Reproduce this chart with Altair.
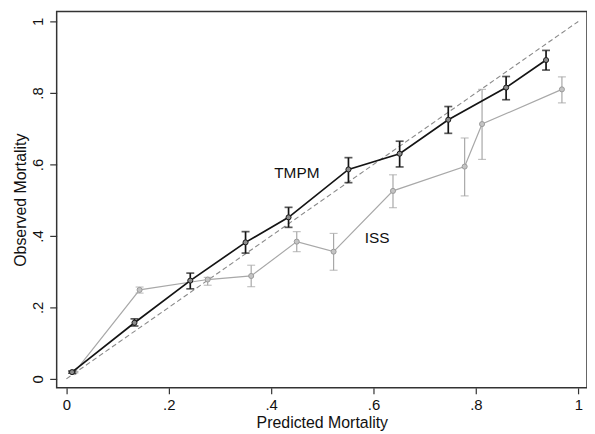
import altair as alt
import pandas as pd

# TMPM series
tmpm_x = [0.011, 0.133, 0.242, 0.350, 0.434, 0.551, 0.651, 0.746, 0.859, 0.937]
tmpm_y = [0.019, 0.157, 0.275, 0.382, 0.452, 0.586, 0.630, 0.725, 0.815, 0.892]
tmpm_lo = [0.016, 0.148, 0.252, 0.352, 0.424, 0.549, 0.593, 0.687, 0.781, 0.864]
tmpm_hi = [0.022, 0.168, 0.296, 0.412, 0.480, 0.619, 0.665, 0.762, 0.846, 0.919]

# ISS series
iss_x = [0.016, 0.143, 0.276, 0.361, 0.450, 0.522, 0.638, 0.778, 0.812, 0.968]
iss_y = [0.019, 0.249, 0.278, 0.288, 0.384, 0.356, 0.526, 0.594, 0.713, 0.810]
iss_lo = [0.017, 0.240, 0.262, 0.258, 0.356, 0.304, 0.479, 0.512, 0.614, 0.772]
iss_hi = [0.021, 0.257, 0.284, 0.318, 0.412, 0.407, 0.571, 0.674, 0.810, 0.845]

# reference diagonal
diag_x = [0, 1]
diag_y = [0, 1]

# in-plot labels
label_text = ["TMPM", "ISS"]
label_x = [0.406, 0.583]
label_y = [0.575, 0.395]

tick_values = [0, 0.2, 0.4, 0.6, 0.8, 1]

df_t = pd.DataFrame({"x": tmpm_x, "y": tmpm_y, "lo": tmpm_lo, "hi": tmpm_hi})
df_i = pd.DataFrame({"x": iss_x, "y": iss_y, "lo": iss_lo, "hi": iss_hi})
df_d = pd.DataFrame({"x": diag_x, "y": diag_y})
df_l = pd.DataFrame({"x": label_x, "y": label_y, "t": label_text})

lab_expr = "datum.value == 0 ? '0' : (datum.value == 1 ? '1' : replace(format(datum.value, '.1f'), '0.', '.'))"

xs = alt.Scale(domain=[-0.019, 1.017], nice=False, zero=False)
ys = alt.Scale(domain=[-0.025, 1.028], nice=False, zero=False)

X = alt.X("x:Q", scale=xs, title="Predicted Mortality",
          axis=alt.Axis(values=tick_values, labelExpr=lab_expr))
Y = alt.Y("y:Q", scale=ys, title="Observed Mortality",
          axis=alt.Axis(values=tick_values, labelExpr=lab_expr, labelAngle=-90,
                        labelAlign="center", labelBaseline="bottom", tickSize=7))

diag = alt.Chart(df_d).mark_line(color="#8a8a8a", strokeWidth=1.1, strokeDash=[5, 3]).encode(x=X, y=Y)


def series(df, color, width, fill, stroke):
    line = alt.Chart(df).mark_line(color=color, strokeWidth=width).encode(x=X, y=Y)
    rule = alt.Chart(df).mark_rule(color=color, strokeWidth=width).encode(
        x=X, y=alt.Y("lo:Q", scale=ys), y2="hi:Q")
    cap_lo = alt.Chart(df).mark_tick(color=color, orient="horizontal", size=8, thickness=width).encode(
        x=X, y=alt.Y("lo:Q", scale=ys))
    cap_hi = alt.Chart(df).mark_tick(color=color, orient="horizontal", size=8, thickness=width).encode(
        x=X, y=alt.Y("hi:Q", scale=ys))
    pts = alt.Chart(df).mark_point(shape="circle", filled=False, fill=fill, fillOpacity=1,
                                   stroke=stroke, strokeWidth=1, size=26, opacity=1).encode(x=X, y=Y)
    return [line, rule, cap_lo, cap_hi, pts]


iss_layers = series(df_i, "#a8a8a8", 1.2, "#c4c4c4", "#9a9a9a")
tmpm_layers = series(df_t, "#141414", 1.7, "#8c8c8c", "#1a1a1a")

labels = alt.Chart(df_l).mark_text(align="left", baseline="middle", fontSize=15.5,
                                   font="Liberation Sans", color="#111").encode(
    x=X, y=Y, text="t:N")

chart = alt.layer(diag, *iss_layers, *tmpm_layers, labels).properties(
    width=534, height=379,
    autosize=alt.AutoSizeParams(type="none"),
    padding={"left": 49, "top": 2, "right": 0, "bottom": 44},
    background="white",
).configure_view(
    stroke="#333333", strokeWidth=1.5
).configure_axis(
    grid=False, domain=False,
    tickColor="#333333", tickSize=6, tickWidth=1.2,
    labelFont="Liberation Sans", labelFontSize=15, labelColor="#111",
    titleFont="Liberation Sans", titleFontSize=16, titleFontWeight="normal", titleColor="#111",
    labelPadding=4,
).configure_axisX(titlePadding=2).configure_axisY(titlePadding=2)

chart.save("out.html", embed_options={"renderer": "svg", "actions": False})
